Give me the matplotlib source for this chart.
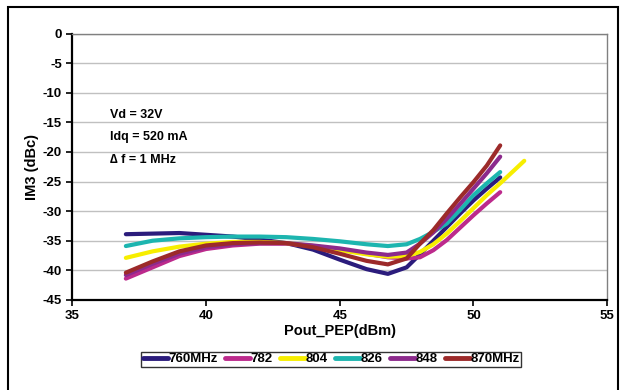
import matplotlib
matplotlib.use('Agg')
import matplotlib.pyplot as plt
from matplotlib.patches import Rectangle

plt.rcParams['font.family'] = ['Liberation Sans', 'DejaVu Sans']
plt.rcParams['axes.unicode_minus'] = False

# ── Data ───────────────────────────────────────────
x_pts = [37, 38, 39, 40, 41, 42, 43, 44, 45, 46, 46.8, 47.5, 48, 48.5, 49, 49.5, 50, 50.5, 51]
x_yel = x_pts + [51.5, 51.9]

im3_760 = [-33.9, -33.8, -33.7, -34.0, -34.3, -34.8, -35.4, -36.5, -38.2, -39.8, -40.6,
           -39.5, -37.3, -35.0, -32.7, -30.4, -28.2, -26.2, -24.3]
im3_782 = [-41.4, -39.5, -37.6, -36.4, -35.8, -35.5, -35.5, -35.9, -36.5, -37.2, -37.8,
           -38.0, -37.8, -36.6, -34.9, -32.8, -30.7, -28.7, -26.8]
im3_804 = [-37.9, -36.8, -36.0, -35.5, -35.2, -35.2, -35.4, -35.9, -36.6, -37.3, -37.7,
           -37.6, -36.9, -35.6, -33.8, -31.7, -29.5, -27.3, -25.3, -23.2, -21.5]
im3_826 = [-35.9, -35.0, -34.6, -34.4, -34.3, -34.3, -34.4, -34.7, -35.1, -35.6, -35.9,
           -35.6, -34.7, -33.5, -32.1, -29.8, -27.3, -25.3, -23.4]
im3_848 = [-40.8, -38.9, -37.2, -36.1, -35.6, -35.4, -35.4, -35.8, -36.3, -37.0, -37.4,
           -37.0, -35.5, -33.6, -31.3, -28.8, -26.2, -23.6, -20.8]
im3_870 = [-40.4, -38.5, -36.8, -35.8, -35.4, -35.3, -35.4, -36.1, -37.2, -38.4, -39.0,
           -38.0, -35.5, -33.2, -30.4, -27.7, -25.1, -22.3, -18.9]

labels = ['760MHz', '782', '804', '826', '848', '870MHz']
colors = ['#2B1C7C', '#BC2A8C', '#F7EE00', '#1DB5AF', '#8C2A8C', '#9C2A2A']
series = [(x_pts, im3_760), (x_pts, im3_782), (x_yel, im3_804),
          (x_pts, im3_826), (x_pts, im3_848), (x_pts, im3_870)]

notes = ['Vd = 32V', 'Idq = 520 mA', '\u2206 f = 1 MHz']
note_y = [-13.8, -17.5, -21.4]

# ── Plot ────────────────────────────────────────────
fig = plt.figure(figsize=(6.24, 3.9), dpi=100)
ax = fig.add_axes([0.116, 0.231, 0.857, 0.683])

for (xs, ys), lab, c in zip(series, labels, colors):
    ax.plot(xs, ys, color=c, linewidth=3.0, label=lab,
            solid_capstyle='round', solid_joinstyle='round')

ax.set_xlim(35, 55)
ax.set_ylim(-45, 0)
ax.set_xticks(range(35, 56, 5))
ax.set_yticks(range(-45, 1, 5))
ax.yaxis.grid(True, color='#C0C0C0', linewidth=1)
ax.set_axisbelow(True)

for s in ['top', 'right']:
    ax.spines[s].set_color('#808080')
    ax.spines[s].set_linewidth(1)
for s in ['left', 'bottom']:
    ax.spines[s].set_color('black')
    ax.spines[s].set_linewidth(1.6)

ax.tick_params(direction='out', length=4, width=1.2, labelsize=9.5)
for t in ax.get_xticklabels() + ax.get_yticklabels():
    t.set_fontweight('bold')

ax.set_xlabel('Pout_PEP(dBm)', fontsize=10.5, fontweight='bold', labelpad=1)
ax.set_ylabel('IM3 (dBc)', fontsize=10.5, fontweight='bold', labelpad=3)

for txt, yy in zip(notes, note_y):
    ax.text(36.4, yy, txt, fontsize=9, fontweight='bold', va='center')

leg = fig.legend(loc='center', bbox_to_anchor=(0.531, 0.079), ncol=6,
                 frameon=True, fancybox=False, handlelength=1.9,
                 handletextpad=0.05, columnspacing=0.55, borderpad=0.1,
                 borderaxespad=0, prop={'weight': 'bold', 'size': 9.5})
leg.get_frame().set_edgecolor('black')
leg.get_frame().set_linewidth(1)
for h in leg.get_lines():
    h.set_linewidth(3.5)

# outer chart border
fig.patches.append(Rectangle((8 / 624, -0.05), 610 / 624, 1 - 7 / 390 + 0.05,
                             transform=fig.transFigure, fill=False,
                             edgecolor='black', linewidth=1.5))

plt.savefig('out.png', dpi=100)
